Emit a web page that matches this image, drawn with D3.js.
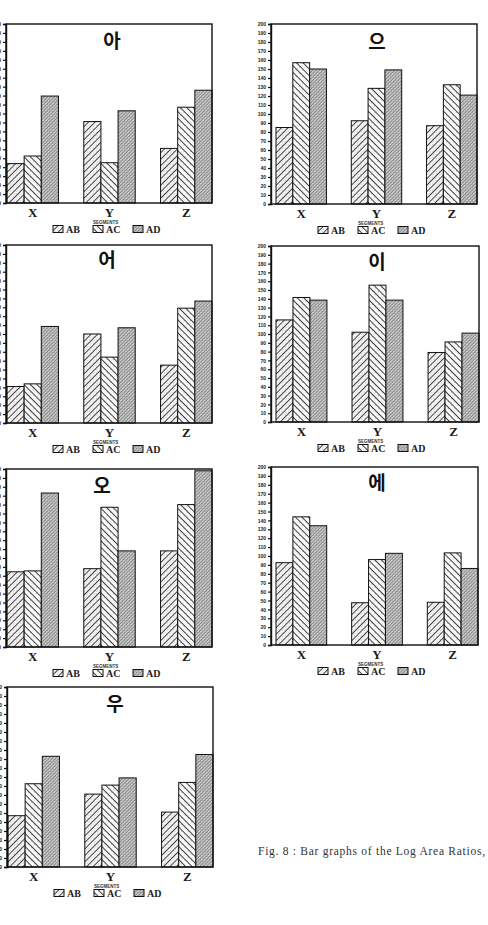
<!DOCTYPE html>
<html>
<head>
<meta charset="utf-8">
<script src="https://cdn.jsdelivr.net/npm/d3@7"></script>
<style>
  body { margin: 0; background: #fff; }
  svg { display: block; }
</style>
</head>
<body>
<div id="chart"></div>
<script>
// Categories and series
var groups = ["X", "Y", "Z"];
var series = ["AB", "AC", "AD"];
var yTicks = [0, 10, 20, 30, 40, 50, 60, 70, 80, 90, 100, 110, 120, 130, 140, 150, 160, 170, 180, 190, 200];

// Values per panel: one row per group (X, Y, Z), columns AB, AC, AD
var ahValues  = [[44, 52.5, 119.5], [91, 45, 103], [61, 107, 126]];
var eoValues  = [[41, 44, 108.5], [100, 74, 107], [65, 129, 137]];
var oValues   = [[84.5, 85.5, 173], [88, 157, 108], [108, 160, 198]];
var uValues   = [[57, 92.5, 123], [81, 91, 99], [61, 94, 125]];
var euValues  = [[85, 157, 150], [92.5, 128.5, 149], [87, 132.5, 121]];
var iValues   = [[116, 141.5, 138.5], [102, 155.5, 138.5], [79, 91, 101]];
var eValues   = [[92.5, 144, 134], [47.5, 96, 103], [48, 103.5, 86]];

var titles = ["아", "어", "오", "우", "으", "이", "에"];
var caption = "Fig. 8 : Bar graphs of the Log Area Ratios,";

// Where each panel sits on the page
var panels = [
  { title: titles[0], values: ahValues, left: 6,   top: 24,  right: 212, bottom: 203, gap: 1, tx: 112, ty: 39 },
  { title: titles[1], values: eoValues, left: 6,   top: 245, right: 212, bottom: 423, gap: 1, tx: 107, ty: 258 },
  { title: titles[2], values: oValues,  left: 6,   top: 469, right: 212, bottom: 647, gap: 1, tx: 102, ty: 484 },
  { title: titles[3], values: uValues,  left: 7,   top: 687, right: 213, bottom: 867, gap: 1, tx: 115, ty: 702 },
  { title: titles[4], values: euValues, left: 271, top: 24,  right: 477, bottom: 204, gap: 5, tx: 377, ty: 40 },
  { title: titles[5], values: iValues,  left: 271, top: 246, right: 479, bottom: 422, gap: 5, tx: 377, ty: 260 },
  { title: titles[6], values: eValues,  left: 271, top: 467, right: 478, bottom: 645, gap: 5, tx: 377, ty: 481 }
];

var width = 488, height = 925;

var svg = d3.select("#chart")
  .append("svg")
    .attr("width", width)
    .attr("height", height);

// Hatch patterns that mimic the printed fills
var defs = svg.append("defs");

function hatch(id, angle, step, stroke, sw, bg, dots) {
  var p = defs.append("pattern")
    .attr("id", id)
    .attr("patternUnits", "userSpaceOnUse")
    .attr("width", step)
    .attr("height", step)
    .attr("patternTransform", "rotate(" + angle + ")");
  p.append("rect").attr("width", step).attr("height", step).attr("fill", bg);
  p.append("line")
    .attr("x1", step / 2).attr("y1", 0)
    .attr("x2", step / 2).attr("y2", step)
    .attr("stroke", stroke)
    .attr("stroke-width", sw);
  dots.forEach(function(d) {
    p.append("rect").attr("x", d[0]).attr("y", d[1]).attr("width", 0.7).attr("height", 0.7).attr("fill", "#888");
  });
}
hatch("pat-AB", 45, 4.6, "#2a2a2a", 0.85, "#f6f6f6", [[0.6, 1.2], [3.8, 3.4]]);
hatch("pat-AC", -45, 4.6, "#2a2a2a", 0.85, "#f8f8f8", [[1, 3.6]]);
hatch("pat-AD", 45, 2.4, "#6a6a6a", 0.6, "#d2d2d2", [[0.2, 0.5], [1.6, 1.9]]);

panels.forEach(function(p) {
  var g = svg.append("g");

  var y = d3.scaleLinear().domain([0, 200]).range([p.bottom, p.top]);
  var x0 = d3.scaleBand().domain(groups).range([p.left + p.gap, p.right]).paddingInner(0.33);
  var x1 = d3.scaleBand().domain(series).range([0, x0.bandwidth()]);

  // Bars
  g.selectAll("g.grp")
    .data(p.values.map(function(v, i) { return { key: groups[i], vals: v }; }))
    .join("g")
      .attr("class", "grp")
      .attr("transform", function(d) { return "translate(" + x0(d.key) + ",0)"; })
    .selectAll("rect")
    .data(function(d) { return d.vals.map(function(v, j) { return { s: series[j], v: v }; }); })
    .join("rect")
      .attr("x", function(d) { return x1(d.s); })
      .attr("y", function(d) { return y(d.v); })
      .attr("width", x1.bandwidth())
      .attr("height", function(d) { return y(0) - y(d.v); })
      .attr("fill", function(d) { return "url(#pat-" + d.s + ")"; })
      .attr("stroke", "#111")
      .attr("stroke-width", 1);

  // Frame
  g.append("rect")
    .attr("x", p.left).attr("y", p.top)
    .attr("width", p.right - p.left).attr("height", p.bottom - p.top)
    .attr("fill", "none")
    .attr("stroke", "#111")
    .attr("stroke-width", 1.4);

  // Y axis (left column labels run off the page edge, as in the print)
  var ax = g.append("g")
    .attr("transform", "translate(" + p.left + ",0)")
    .call(d3.axisLeft(y).tickValues(yTicks).tickSize(3).tickPadding(2));
  ax.select(".domain").attr("stroke", "#111").attr("stroke-width", 1.4);
  ax.selectAll(".tick line").attr("stroke", "#111").attr("stroke-width", 1.2);
  ax.selectAll(".tick text")
    .attr("fill", "#222")
    .style("font-family", "'Liberation Sans', Arial, sans-serif")
    .style("font-weight", "bold")
    .style("font-size", "5px");

  // Group labels
  g.selectAll("text.grp")
    .data(groups)
    .join("text")
      .attr("class", "grp")
      .attr("x", function(d) { return x0(d) + x0.bandwidth() / 2; })
      .attr("y", p.bottom + 14)
      .attr("text-anchor", "middle")
      .style("font-family", "'Liberation Serif', 'DejaVu Serif', serif")
      .style("font-weight", "bold")
      .style("font-size", "13px")
      .attr("fill", "#1a1a1a")
      .text(function(d) { return d; });

  // Title
  g.append("text")
    .attr("x", p.tx)
    .attr("y", p.ty)
    .attr("text-anchor", "middle")
    .attr("dominant-baseline", "central")
    .style("font-family", "'Noto Sans CJK KR', sans-serif")
    .style("font-weight", "bold")
    .style("font-size", "19px")
    .attr("fill", "#111")
    .text(p.title);

  // Legend
  var lg = g.append("g").attr("transform", "translate(" + p.left + "," + (p.bottom + 26) + ")");
  series.forEach(function(s, i) {
    var lx = 47 + i * 40;
    lg.append("rect")
      .attr("x", lx).attr("y", -3.5)
      .attr("width", 10).attr("height", 7)
      .attr("fill", "url(#pat-" + s + ")")
      .attr("stroke", "#111")
      .attr("stroke-width", 1);
    lg.append("text")
      .attr("x", lx + 13).attr("y", 3.5)
      .style("font-family", "'Liberation Serif', 'DejaVu Serif', serif")
      .style("font-weight", "bold")
      .style("font-size", "10px")
      .attr("fill", "#222")
      .text(s);
  });
  lg.append("text")
    .attr("x", 87).attr("y", -5)
    .style("font-family", "'Liberation Sans', Arial, sans-serif")
    .style("font-weight", "bold")
    .style("font-size", "4.5px")
    .attr("fill", "#333")
    .text("SEGMENTS");
});

// Caption
svg.append("text")
  .attr("x", 258)
  .attr("y", 855)
  .attr("textLength", 227)
  .style("font-family", "'Liberation Serif', 'DejaVu Serif', serif")
  .style("font-size", "11.5px")
  .attr("fill", "#333")
  .text(caption);
</script>
</body>
</html>
